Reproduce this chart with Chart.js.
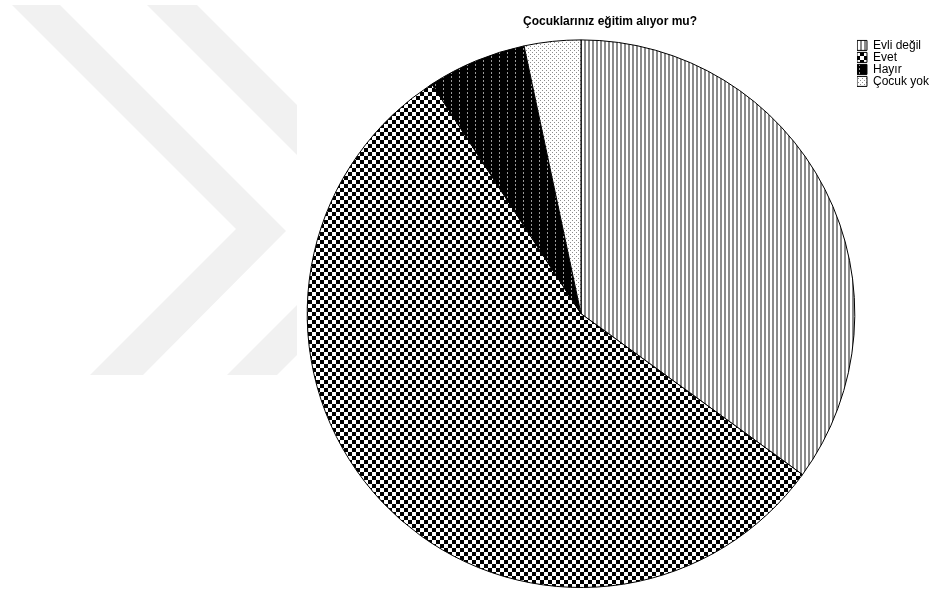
<!DOCTYPE html>
<html>
<head>
<meta charset="utf-8">
<script src="https://cdn.jsdelivr.net/npm/chart.js@4/dist/chart.umd.min.js"></script>
<style>
  html, body { margin: 0; padding: 0; background: #fff; }
  canvas { display: block; }
</style>
</head>
<body>
<canvas id="pie" width="934" height="589"></canvas>
<script>
  // data (approx. counts, clockwise from 12 o'clock)
  const chartTitle = 'Çocuklarınız eğitim alıyor mu?';
  const categories = ['Evli değil', 'Evet', 'Hayır', 'Çocuk yok'];
  const counts = [42, 67, 7, 4];

  // small tiles for the SPSS-like fill patterns
  function makePattern(w, h, paint) {
      const c = document.createElement('canvas');
      c.width = w;
      c.height = h;
      const g = c.getContext('2d');
      paint(g);
      return g.createPattern(c, 'repeat');
  }

  const stripes = makePattern(4, 1, g => {
      g.fillStyle = '#fff';
      g.fillRect(0, 0, 4, 1);
      g.fillStyle = '#8a8a8a';
      g.fillRect(0, 0, 2, 1);
  });

  const checker = makePattern(8, 8, g => {
      g.fillStyle = '#fff';
      g.fillRect(0, 0, 8, 8);
      g.fillStyle = '#000';
      g.fillRect(0, 0, 4, 4);
      g.fillRect(4, 4, 4, 4);
  });

  const darkDots = makePattern(8, 4, g => {
      g.fillStyle = '#000';
      g.fillRect(0, 0, 8, 4);
      g.fillStyle = '#9a9a9a';
      g.fillRect(3, 0, 1, 2);
  });

  const lightDots = makePattern(4, 4, g => {
      g.fillStyle = '#fff';
      g.fillRect(0, 0, 4, 4);
      g.fillStyle = '#8c8c8c';
      g.fillRect(0, 0, 1, 1);
      g.fillRect(2, 2, 1, 1);
  });

  const fills = [stripes, checker, darkDots, lightDots];

  // faint double chevron in the background
  const watermark = {
      id: 'watermark',
      beforeDraw(chart) {
          const ctx = chart.ctx;
          ctx.save();
          ctx.beginPath();
          ctx.rect(0, 0, 297, chart.height);
          ctx.clip();
          ctx.fillStyle = '#f1f1f1';
          ctx.beginPath();
          ctx.moveTo(12, 5);
          ctx.lineTo(60, 5);
          ctx.lineTo(286, 231);
          ctx.lineTo(143, 375);
          ctx.lineTo(90, 375);
          ctx.lineTo(236, 229);
          ctx.closePath();
          ctx.fill();
          ctx.beginPath();
          ctx.moveTo(147, 5);
          ctx.lineTo(197, 5);
          ctx.lineTo(422, 230);
          ctx.lineTo(277, 375);
          ctx.lineTo(227, 375);
          ctx.lineTo(372, 230);
          ctx.closePath();
          ctx.fill();
          ctx.restore();
      }
  };

  // the title sits a little right of the pie centre in the original
  const titleShift = {
      id: 'titleShift',
      afterLayout(chart) {
          const t = chart.titleBlock;
          if (!t) return;
          const dx = 610 - (t.left + t.right) / 2;
          t.left += dx;
          t.right += dx;
      }
  };

  new Chart(document.getElementById('pie'), {
      type: 'pie',
      data: {
          labels: categories,
          datasets: [{
              data: counts,
              backgroundColor: fills,
              borderColor: '#000',
              borderWidth: 1
          }]
      },
      options: {
          responsive: false,
          animation: false,
          events: [],
          layout: {
              padding: { left: 305, right: -5, top: 0, bottom: 1 }
          },
          plugins: {
              title: {
                  display: true,
                  text: chartTitle,
                  color: '#000',
                  font: { family: 'Liberation Sans, Arial, sans-serif', size: 12, weight: 'bold' },
                  padding: { top: 14, bottom: 11 }
              },
              legend: {
                  position: 'right',
                  align: 'start',
                  fullSize: false,
                  labels: {
                      color: '#000',
                      boxWidth: 10,
                      boxHeight: 10,
                      padding: 0,
                      font: { family: 'Liberation Sans, Arial, sans-serif', size: 12 }
                  }
              },
              tooltip: { enabled: false }
          }
      },
      plugins: [watermark, titleShift]
  });
</script>
</body>
</html>
